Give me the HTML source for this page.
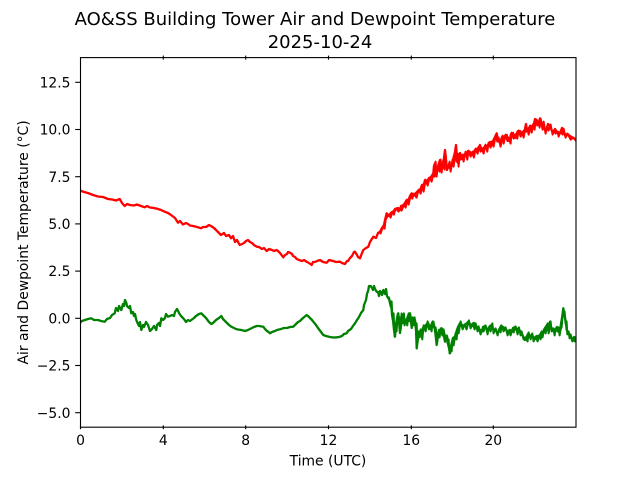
<!DOCTYPE html>
<html>
<head>
<meta charset="utf-8">
<style>
html,body{margin:0;padding:0;background:#fff;}
svg{display:block;}
text{font-family:"DejaVu Sans","Liberation Sans",sans-serif;fill:#000;}
</style>
</head>
<body>
<svg width="640" height="480" viewBox="0 0 640 480" xmlns="http://www.w3.org/2000/svg">
<rect x="0" y="0" width="640" height="480" fill="#fff"/>
<defs>
<clipPath id="pa"><rect x="80" y="57.6" width="496" height="369.6"/></clipPath>
</defs>

<!-- Title -->
<text x="315" y="25" font-size="18" text-anchor="middle">AO&amp;SS Building Tower Air and Dewpoint Temperature</text>
<text x="320" y="48" font-size="18" text-anchor="middle">2025-10-24</text>

<!-- Data -->
<g clip-path="url(#pa)" fill="none" stroke-width="2.3" stroke-linejoin="round" stroke-linecap="square">
<polyline stroke="#ff0000" points="80,190.5 84,192 88,193 93,195 98,196.5 103,197 108,199 112,199.5 116,200.5 119.7,199 122,203 124.7,206 127,204 130,205 134,205.5 137,204.5 141,206 144.7,207.3 147,206 150,207.5 154,208 158,209 161,210 164.7,211.7 168,213 171,215 175,218 178,222.7 180,221 183,224.5 186,223 188,224 190,225.5 193,226 197,227 201,228.3 203,227 206,227 209,225 211,226 214,228 216,230 219,233 221,235 224,233 226,236 229,235 231,238.3 233,236 235,242 237,240 239.7,245 242,244 244,243 246,241 248,240 250,242 252,243 254,245 256.7,246.7 259,247 262,249 264,248 266.7,251 269,249 272,250 274,251 276.7,250 278,251 280,253 283.3,257.3 285,255 287,254 288,252 290,252.7 292,254 293,256 295,257 296.7,259 299,260 302,261 304,260 307,262 309,263 311.7,265 313,262 315,262 317,261 320,260 323,262 326.7,262.7 329,260 333,261 336,262 340,261.7 342,263 345,264 347,261 348,261 350,258 352,256 354,252 355,251.7 357,255 358,257 360,258.3 362,253 363.3,250 366,248 368.3,246.7 370,242 373.3,236.7 376,238 378,233 380,231.7 382,228 384,225 385,220 386.7,213.3 388,216 390,214 392,212 393.3,211.7 395,209 398,208 400,210 401,206 403.3,205 405,203 406.7,200 408,201 410,196 411.7,193.3 413,196 416,193 418,191 420,190 422,185 423,188 425,180 427,182 429,178 431,177 433.3,173.3 434,166 435,163.3 436,172 437,170 439,163 440,160 441,168 442,167 444,158 445,150 446,160 447,170 449,165 450,168 452,163 453,160 455,152 456,145 457,158 458,163 459,158 460,153 462,159 463,156 465,154 466.7,155 468,151 470,152 472,155 473.3,153 475,150 477,149 479,147 480,145 481,151 483,150 485,146 486.7,148 488,145 490,142 491,146 493,141 495,137 496.7,133.3 498,140 500,143 502,137 503,139 505,136 506.7,135 508,141 510,139 511,134 513,133 515,138 516.7,133.3 518,131 520,131 522,135 523,133 525,129 526,124 527,131 528,130 530,126 531,128 533,125 534,124 535,119 536.7,120 538,124 539,122 540,118.3 542,126 543,123 545,130 546.7,128.3 548,124 550,126 552,131 553.3,131.7 555,129 557,132 558,132 560,133 562,128 563,130 565,135 567,134 570,136 573,138 576,139.3"/>
<polyline stroke="#ff0000" stroke-width="2" transform="translate(0.6,1.6)" points="380,231.7 382,226 384,227 385,218 386.7,215 388,213 390,216 392,210 393.3,213 395,207 398,210 400,206 401,209 403.3,203 405,206 406.7,198 408,203 410,194 411.7,197 413,192 416,196 418,188 420,192 422,183 423,190 425,178 427,184 429,176 431,180 433.3,170 434,175 435,160 436,175 437,166 439,170 440,158 441,171 442,162 444,168 445,153 446,165 447,167 449,160 450,170 452,158 453,165 455,149 456,160 457,152 458,165 459,152 460,158 462,153 463,160 465,150 466.7,158 468,149 470,155 472,150 473.3,156 475,147 477,152 479,144 480,150 481,146 483,152 485,143 486.7,150 488,141 490,146 491,140 493,145 495,134 496.7,140 498,136 500,145 502,134 503,142 505,133 506.7,139 508,136 510,142 511,131 513,137 515,133 516.7,137 518,129 520,135 522,130 523,136 525,126 526,130 527,127 528,133 530,124 531,131 533,122 534,128 535,118 536.7,124 538,120 539,126 540,117 542,128 543,120 545,132 546.7,125 548,129 550,123 552,133 553.3,129 555,132 557,130 558,135 560,130 562,133 563,127 565,136 567,132 570,138 573,136 576,140"/>
<polyline stroke="#008000" points="80,322.7 82,321 85,320 88,319 91.3,318.3 94,320 98,320 101,321 104.7,321.7 107,319 110,318 112,315 114.7,313.3 116,308 118,311 119,306 121.3,310 123,304 124,306 125,300 126.3,302.7 127,306 129,308 130,306 131.3,313.3 133,312 134,316 135,314 136.3,320 138,324 139,326 140,322 141.3,330 143,325 144,327 146,322 148,325 150,331 152,329 154,326 156.3,330 157,325 159,323 160,326 161.3,318.3 163,320 165,318 166,314 168,316.7 170,316 172,315 174,316 175,312 177,309 178,310.7 179,313 181,316 183,318 184.7,320 186,322 188,320 190,321 191.3,320 194,318 196,316 199,314 201.3,313.3 203,315 206,318 209,322 211.3,324 213,323 216,320 219,318 221.3,316 223,319 226,322 229,325 231.3,326.7 234,328 236,329 238,329.5 241.3,330 245,331 248,330 250,329 252,328 254,327 256.7,326 259,326 263.3,326.7 265,329 267,331 268.5,332 270,333.3 272,332 275,331 277,330 280,329.3 284,328 287,328 290,327 293.3,326.7 296,324 298,322 300,321 303,318 306.7,315 308,316 310,318 312,320 313.3,321.7 316,325 318,328 321,332 323.3,335 326,336 330,337 333,337.5 336.7,337.3 339,337 342,336 344,334 346.7,333.3 348,331 351,329 353,326 355,323.3 357,320 359,317 361,313 363.3,310 364,305 366,300 367,294 368.3,290 369,286 370.7,286 372,288 373,290 374,286 375,289 376.7,291.7 378,292 379,296 380,291 381,292 382,295 383.3,290 384,292 385,294 386,289 387,296 388.3,298.3 389,298 390,302 391,305 391.7,310 392,315 393,320 394,330 395,336.7 396,325 397,318 398,314 398.3,313.3 399,322 400,333 401,326 401.5,318 402,316 403.3,315 404,320 405,322 406.7,320 408,316 409,314 410,313.3 411,320 411.7,328 412,322 413,318 414,322 415,320 416,330 416.7,348.3 418,338 419,332 420,335 421.7,333.3 423,328 425,326 427,324 428.3,323.3 430,329 431,327 432,323 433.3,321.7 435,330 436.7,345 438,336 439,330 440,332 441.7,328.3 443,332 445,341.7 446,338 447,336 448,344 449,348 450,353.3 451,346 452,342 453,338 455,336.7 456,333 457,330 458,327 460,323.3 462,325 464,326 466,324 468.3,321.7 470,324 472,326 474,323 475,325 477,327 478,328 480,330 481.7,331.7 483,327 485,326 487,330 488,329 490,326 491.7,325 493,329 495,330 497,332 498.3,331.7 500,328 501,326 503,327 505,328.3 507,331 508,333 510,330 511.7,331.7 513,328 515,327 517,330 518.3,328.3 520,331 521,333 523,336 525,340 527,336 528,334 530,336 531.7,335 533,337 535,339 537,336 538.3,338.3 540,335 541,333 542,334 543.3,331.7 545,328 547,325 548,330 550,321.7 551,327 553,330 554,332 555,330 557,327 558,329 559,332 560,331.7 561,324 562,318 563.3,308.3 564,313 565,318 566,324 566.7,330 568,332 569,334 570,336 571.7,338.3 573,340 574,337 575,339 576,338.3"/>
<polyline stroke="#008000" stroke-width="2" transform="translate(0.6,1.4)" points="388,296 390,305 391,300 392,318 393,312 394,335 395,322 396,330 397,313 398,320 399,316 400,328 401,312 402,322 403.3,312 404,324 405,318 406.7,324 408,312 409,320 410,316 411,326 412,316 413,324 414,316 415,326 416,322 417,340 418,330 419,336 420,328 421.7,338 423,324 425,330 427,320 428.3,328 430,324 431,330 432,320 433.3,326 435,326 436.7,338 438,330 439,336 440,327 441.7,334 443,328 445,338 446,334 447,342 448,338 449,352 450,345 451,350 452,338 453,344 455,332 456,338 457,327 458,332 460,320 462,328 464,323 466,328 468.3,319 470,327 472,322 474,328 475,322 477,330 478,325 480,333 481.7,328 483,330 485,324 487,333 488,326 490,330 491.7,322 493,332 495,327 497,334 498.3,328 500,331 501,324 503,330 505,326 507,334 508,329 510,334 511.7,328 513,331 515,325 517,333 518.3,326 520,334 521,330 523,338 525,336 527,340 528,331 530,338 531.7,332 533,340 535,335 537,340 538.3,334 540,338 541,330 542,336 543.3,328 545,332 547,322 548,332 550,320 551,330 553,327 554,334 555,328 557,330 558,326 559,334 560,328 561,326 562,315 563.3,312 564,310 565,322 566,320 566.7,333 568,330 569,337 570,333 571.7,340 573,336 574,340 575,336 576,340"/>
</g>

<!-- Axes frame -->
<rect x="80.5" y="57.6" width="495.5" height="369.6" fill="none" stroke="#000" stroke-width="1.1"/>

<!-- Y ticks -->
<g stroke="#000" stroke-width="1.1">
<line x1="75.2" y1="82.3" x2="80" y2="82.3"/>
<line x1="75.2" y1="129.5" x2="80" y2="129.5"/>
<line x1="75.2" y1="176.7" x2="80" y2="176.7"/>
<line x1="75.2" y1="223.9" x2="80" y2="223.9"/>
<line x1="75.2" y1="271.1" x2="80" y2="271.1"/>
<line x1="75.2" y1="318.3" x2="80" y2="318.3"/>
<line x1="75.2" y1="365.5" x2="80" y2="365.5"/>
<line x1="75.2" y1="412.7" x2="80" y2="412.7"/>
</g>
<g font-size="13.89" text-anchor="end">
<text x="70.5" y="87.4">12.5</text>
<text x="70.5" y="134.6">10.0</text>
<text x="70.5" y="181.8">7.5</text>
<text x="70.5" y="229">5.0</text>
<text x="70.5" y="276.2">2.5</text>
<text x="70.5" y="323.4">0.0</text>
<text x="70.5" y="370.6">−2.5</text>
<text x="70.5" y="417.8">−5.0</text>
</g>

<!-- X ticks (inout, top and bottom) -->
<g stroke="#000" stroke-width="1.1">
<line x1="80.5" y1="425.3" x2="80.5" y2="429.2"/>
<line x1="163.3" y1="425.3" x2="163.3" y2="429.2"/>
<line x1="245.7" y1="425.3" x2="245.7" y2="429.2"/>
<line x1="328.5" y1="425.3" x2="328.5" y2="429.2"/>
<line x1="411.3" y1="425.3" x2="411.3" y2="429.2"/>
<line x1="493.3" y1="425.3" x2="493.3" y2="429.2"/>
<line x1="163.3" y1="55.6" x2="163.3" y2="59.6"/>
<line x1="245.7" y1="55.6" x2="245.7" y2="59.6"/>
<line x1="328.5" y1="55.6" x2="328.5" y2="59.6"/>
<line x1="411.3" y1="55.6" x2="411.3" y2="59.6"/>
<line x1="493.3" y1="55.6" x2="493.3" y2="59.6"/>
</g>
<g font-size="13.89" text-anchor="middle">
<text x="80.5" y="445">0</text>
<text x="163.3" y="445">4</text>
<text x="245.7" y="445">8</text>
<text x="328.5" y="445">12</text>
<text x="411.3" y="445">16</text>
<text x="493.3" y="445">20</text>
</g>

<!-- Axis labels -->
<text x="328" y="465.5" font-size="13.89" text-anchor="middle">Time (UTC)</text>
<text transform="translate(28,242.4) rotate(-90)" font-size="13.89" text-anchor="middle">Air and Dewpoint Temperature (°C)</text>
</svg>
</body>
</html>
